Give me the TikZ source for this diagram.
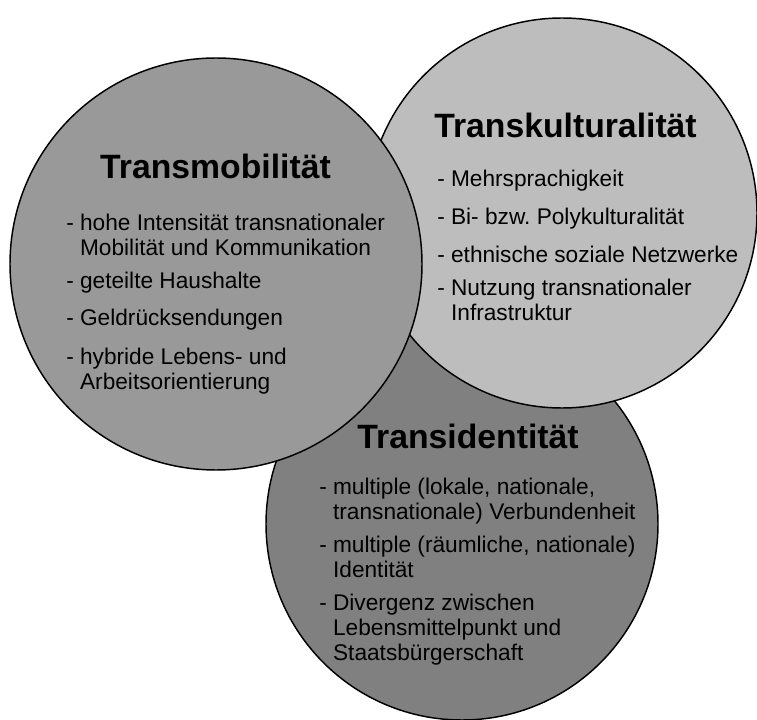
\documentclass[tikz,border=0pt]{standalone}
\usepackage{fontspec}
\setmainfont{Liberation Sans}
\frenchspacing
\definecolor{mobilgray}{gray}{0.6}
\definecolor{kulturgray}{gray}{0.74}
\definecolor{identgray}{gray}{0.5}
\tikzset{
	titel/.style = {font=\fontsize{25.3}{30}\selectfont\bfseries, inner sep=0, anchor=base},
	punkt/.style = {font=\fontsize{17}{18.75}\selectfont, inner sep=0, anchor=base west, align=left},
	kreis/.style = {draw=black, line width=1.1pt}
}
\newcommand{\ein}{\phantom{- }}
\begin{document}
\begin{tikzpicture}[x=0.75pt, y=0.75pt]
		\useasboundingbox (0,0) rectangle (757,-720);
		\draw[kreis, fill = identgray] (462,-524) circle (196);
		\draw[kreis, fill = kulturgray] (562,-213) circle (195);
		\draw[kreis, fill = mobilgray] (216,-264) circle (206);
		% Transmobilitaet (multi-line nodes sit on their last line)
		\node[titel] (mobil) at (215.5,-179) {Transmobilität};
		\node[punkt] (mobil1) at (66,-256) {- hohe Intensität transnationaler\\\ein Mobilität und Kommunikation};
		\node[punkt] (mobil2) at (66,-289) {- geteilte Haushalte};
		\node[punkt] (mobil3) at (66,-326) {- Geldrücksendungen};
		\node[punkt] (mobil4) at (66,-389) {- hybride Lebens- und\\\ein Arbeitsorientierung};
		% Transkulturalitaet
		\node[titel] (kultur) at (565.5,-138) {Transkulturalität};
		\node[punkt] (kultur1) at (437,-187) {- Mehrsprachigkeit};
		\node[punkt] (kultur2) at (437,-225) {- Bi- bzw. Polykulturalität};
		\node[punkt] (kultur3) at (437,-262.5) {- ethnische soziale Netzwerke};
		\node[punkt] (kultur4) at (437,-321) {- Nutzung transnationaler\\\ein Infrastruktur};
		% Transidentitaet
		\node[titel] (ident) at (468,-448) {Transidentität};
		\node[punkt] (ident1) at (319,-519) {- multiple (lokale, nationale,\\\ein transnationale) Verbundenheit};
		\node[punkt] (ident2) at (319,-577) {- multiple (räumliche, nationale)\\\ein Identität};
		\node[punkt] (ident3) at (319,-660) {- Divergenz zwischen\\\ein Lebensmittelpunkt und\\\ein Staatsbürgerschaft};
		\end{tikzpicture}
\end{document}
